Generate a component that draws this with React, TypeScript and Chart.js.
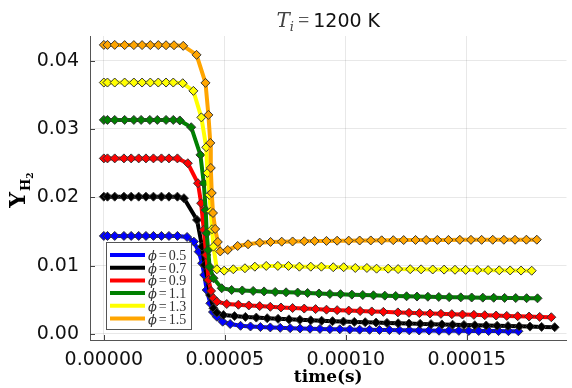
import React, { useEffect, useRef } from "react";
import { Chart, registerables } from "chart.js";

Chart.register(...registerables);

// time in microseconds, mass fraction of H2
const T_PHI05 = [0,1.5,4.5,8.3,11.3,14.4,17.4,20.5,23.8,26.9,30.4,34.4,37.2,39.2,40.6,41.5,42.5,44.0,45.1,46.7,49.1,52.2,56.5,60.6,64.7,68.8,72.9,77.0,81.1,85.2,89.3,93.4,97.5,101.6,105.7,109.8,113.9,118.0,122.1,126.2,130.3,134.4,138.5,142.6,146.7,150.8,154.9,159.0,163.1,167.2,171.3];
const Y_PHI05 = [0.01435,0.01435,0.01435,0.01435,0.01435,0.01435,0.01435,0.01435,0.01435,0.01435,0.01435,0.01420,0.01351,0.01205,0.01035,0.00864,0.00644,0.00449,0.00322,0.00253,0.00180,0.00146,0.00120,0.00110,0.00102,0.00096,0.00090,0.00085,0.00081,0.00077,0.00074,0.00071,0.00068,0.00066,0.00063,0.00061,0.00059,0.00057,0.00055,0.00053,0.00051,0.00050,0.00048,0.00047,0.00046,0.00045,0.00044,0.00043,0.00042,0.00041,0.00040];

const T_PHI07 = [0,1.5,4.5,8.3,11.3,14.4,17.4,20.5,23.8,26.9,30.4,33.1,38.5,40.6,41.7,42.9,43.9,45.3,46.7,49.4,54.0,58.5,63.0,67.5,72.0,76.5,81.0,85.5,90.0,94.5,99.0,103.5,108.0,112.5,117.0,121.6,126.1,130.7,135.2,139.7,144.1,148.8,153.3,158.0,162.5,167.0,171.6,176.1,180.9,186.3];
const Y_PHI07 = [0.0201,0.0201,0.0201,0.0201,0.0201,0.0201,0.0201,0.0201,0.0201,0.0201,0.0201,0.01987,0.01669,0.01278,0.0101,0.00791,0.00571,0.00376,0.00312,0.00278,0.00262,0.00250,0.00240,0.00231,0.00222,0.00214,0.00207,0.00200,0.00194,0.00188,0.00182,0.00177,0.00172,0.00167,0.00162,0.00157,0.00153,0.00148,0.00144,0.00140,0.00136,0.00132,0.00128,0.00124,0.00120,0.00116,0.00112,0.00108,0.00104,0.00100];

const T_PHI09 = [0,1.5,4.5,8.3,11.3,14.4,17.4,20.5,23.8,26.9,30.4,34.7,38.9,40.2,41.3,42.3,43.3,44.3,45.3,46.7,50.8,55.6,59.9,64.4,68.8,73.2,78.0,82.8,87.5,92.0,96.4,101.2,105.9,110.7,115.5,121.5,126.1,130.4,134.8,139.3,143.8,148.2,152.9,157.4,162.1,166.5,171.0,175.7,180.1,184.9];
const Y_PHI09 = [0.0257,0.0257,0.0257,0.0257,0.0257,0.0257,0.0257,0.0257,0.0257,0.0257,0.0257,0.02499,0.02206,0.01914,0.01523,0.01157,0.00791,0.0063,0.00523,0.00473,0.00439,0.00428,0.00418,0.00408,0.00398,0.00388,0.00380,0.00372,0.00364,0.00356,0.00349,0.00342,0.00336,0.00330,0.00324,0.00316,0.00310,0.00305,0.00300,0.00295,0.00290,0.00285,0.00280,0.00275,0.00270,0.00265,0.00260,0.00255,0.00250,0.00245];

const T_PHI11 = [0,1.5,4.5,8.6,12.4,15.4,19.0,22.1,25.7,28.7,31.4,36.1,39.9,41.3,42.1,42.5,43.1,43.7,45.3,48.7,52.8,57.2,61.7,66.2,70.8,75.3,80.1,84.2,88.9,93.4,97.8,102.5,107.0,111.4,116.1,120.6,125.1,129.4,133.9,138.4,142.7,147.5,152.0,156.6,161.1,165.6,170.2,174.7,179.2];
const Y_PHI11 = [0.03133,0.03133,0.03133,0.03133,0.03133,0.03133,0.03133,0.03133,0.03133,0.03133,0.03125,0.03026,0.02621,0.02206,0.01815,0.01474,0.0123,0.00985,0.00816,0.00669,0.00644,0.00637,0.00630,0.00623,0.00615,0.00610,0.00606,0.00600,0.00593,0.00586,0.00583,0.00576,0.00571,0.00566,0.00561,0.00556,0.00552,0.00548,0.00545,0.00542,0.00539,0.00536,0.00534,0.00532,0.00530,0.00528,0.00526,0.00524,0.00522];

const T_PHI13 = [0,1.5,4.5,8.6,12.4,15.8,19.2,22.5,25.7,28.7,32.6,37.0,40.3,42.3,42.8,43.6,44.2,44.7,45.3,46.7,49.7,53.5,58.3,62.4,67.1,71.9,76.3,80.8,85.5,89.9,94.8,99.1,103.9,108.7,112.7,117.5,121.6,126.6,131.1,135.9,140.6,145.1,149.5,154.3,158.8,163.4,167.9,172.4,176.8];
const Y_PHI13 = [0.0368,0.0368,0.0368,0.0368,0.0368,0.0368,0.0368,0.0368,0.0368,0.0368,0.03670,0.03558,0.03170,0.02733,0.02357,0.02035,0.01791,0.01533,0.01278,0.00947,0.00927,0.00947,0.00962,0.00985,0.00996,0.00996,0.00996,0.00985,0.00985,0.00985,0.00977,0.00977,0.00966,0.00966,0.00956,0.00956,0.0095,0.00948,0.00946,0.00944,0.00942,0.0094,0.00938,0.00936,0.00934,0.00932,0.0093,0.00928,0.00926];

const T_PHI15 = [0,1.5,4.5,8.6,12.4,15.8,19.2,22.5,25.7,29.0,32.8,38.3,42.0,43.2,44.0,44.2,44.6,45.1,46.0,47.1,48.1,51.2,55.3,59.6,64.4,68.9,73.5,78.0,82.8,87.1,92.0,96.4,101.2,105.7,110.3,114.8,119.6,123.9,128.8,133.2,137.8,142.4,147.1,151.7,156.1,160.7,165.3,169.9,174.6,178.9];
const Y_PHI15 = [0.04231,0.04231,0.04231,0.04228,0.04228,0.04228,0.04228,0.04228,0.04226,0.04226,0.04217,0.04085,0.03675,0.03206,0.02796,0.02430,0.02064,0.01771,0.01537,0.01347,0.01208,0.01230,0.01288,0.01313,0.01337,0.01347,0.01351,0.01354,0.01357,0.01360,0.01362,0.01365,0.01366,0.01368,0.01369,0.01371,0.01373,0.01375,0.01376,0.01376,0.01377,0.01377,0.01378,0.01378,0.01378,0.01379,0.01379,0.01379,0.01380,0.01380];

const PHI_LABELS = ["0.5", "0.7", "0.9", "1.1", "1.3", "1.5"];
const SERIES_T = [T_PHI05, T_PHI07, T_PHI09, T_PHI11, T_PHI13, T_PHI15];
const SERIES_Y = [Y_PHI05, Y_PHI07, Y_PHI09, Y_PHI11, Y_PHI13, Y_PHI15];
const COLORS = ["#0000ff", "#000000", "#ff0000", "#008000", "#ffff00", "#ffa500"];

const X_TICKS = [0, 5e-5, 1e-4, 1.5e-4];
const Y_TICKS = [0, 0.01, 0.02, 0.03, 0.04];

const SANS = '"DejaVu Sans", sans-serif';
const SERIF = '"DejaVu Serif", serif';

type Part = { text: string; font: string; dy: number; color: string; gap: number };

function drawParts(ctx: CanvasRenderingContext2D, parts: Part[], cx: number, baseline: number, align: "center" | "left") {
  ctx.textBaseline = "alphabetic";
  ctx.textAlign = "left";
  let total = 0;
  const widths = parts.map((p) => {
    ctx.font = p.font;
    const w = ctx.measureText(p.text).width;
    total += w + p.gap;
    return w;
  });
  total -= parts[parts.length - 1].gap;
  let x = align === "center" ? cx - total / 2 : cx;
  parts.forEach((p, i) => {
    ctx.font = p.font;
    ctx.fillStyle = p.color;
    ctx.fillText(p.text, x, baseline + p.dy);
    x += widths[i] + p.gap;
  });
}

const decorPlugin = {
  id: "decor",
  afterDatasetsDraw(chart: any) {
    const ctx: CanvasRenderingContext2D = chart.ctx;
    ctx.save();
    // legend box
    const bx = 106, by = 242, bw = 85, bh = 87;
    ctx.fillStyle = "#ffffff";
    ctx.fillRect(bx, by, bw, bh);
    ctx.strokeStyle = "#555";
    ctx.lineWidth = 1;
    ctx.strokeRect(bx + 0.5, by + 0.5, bw, bh);
    PHI_LABELS.forEach((lab, i) => {
      const yy = 255 + i * 12.7;
      ctx.strokeStyle = COLORS[i];
      ctx.lineWidth = 4;
      ctx.beginPath();
      ctx.moveTo(110, yy);
      ctx.lineTo(145, yy);
      ctx.stroke();
      drawParts(
        ctx,
        [
          { text: "ϕ", font: 'italic 13px "DejaVu Serif"', dy: 0, color: "#333", gap: 2 },
          { text: "=", font: '14px "Liberation Serif"', dy: 0, color: "#333", gap: 2 },
          { text: lab, font: '14px "Liberation Serif"', dy: 0, color: "#333", gap: 0 },
        ],
        148,
        yy + 5,
        "left"
      );
    });
    ctx.restore();
  },
  afterDraw(chart: any) {
    const ctx: CanvasRenderingContext2D = chart.ctx;
    const area = chart.chartArea;
    const xs = chart.scales.x;
    const ys = chart.scales.y;
    ctx.save();
    // inward tick marks
    ctx.strokeStyle = "#444";
    ctx.lineWidth = 1;
    X_TICKS.forEach((v) => {
      const px = Math.round(xs.getPixelForValue(v)) + 0.5;
      ctx.beginPath();
      ctx.moveTo(px, area.bottom);
      ctx.lineTo(px, area.bottom - 5);
      ctx.stroke();
    });
    Y_TICKS.forEach((v) => {
      const py = Math.round(ys.getPixelForValue(v)) + 0.5;
      ctx.beginPath();
      ctx.moveTo(area.left, py);
      ctx.lineTo(area.left + 5, py);
      ctx.stroke();
    });
    const cx = (area.left + area.right) / 2;
    // title
    drawParts(
      ctx,
      [
        { text: "T", font: 'italic 20px "DejaVu Serif"', dy: 0, color: "#444", gap: 0 },
        { text: "i", font: 'italic 13px "DejaVu Serif"', dy: 4, color: "#444", gap: 4 },
        { text: "=", font: '20px "Liberation Serif"', dy: 0, color: "#555", gap: 4 },
        { text: "1200 K", font: "19px " + SANS, dy: 0, color: "#111", gap: 0 },
      ],
      cx,
      27,
      "center"
    );
    // x label
    drawParts(ctx, [{ text: "time(s)", font: "bold 17px " + SERIF, dy: 0, color: "#000", gap: 0 }], cx, 382, "center");
    // y label
    ctx.translate(25, 190);
    ctx.rotate(-Math.PI / 2);
    drawParts(
      ctx,
      [
        { text: "Y", font: "bold 22px " + SERIF, dy: 0, color: "#000", gap: 1 },
        { text: "H", font: "bold 13px " + SERIF, dy: 5, color: "#000", gap: 0 },
        { text: "2", font: "bold 9px " + SERIF, dy: 8, color: "#000", gap: 0 },
      ],
      0,
      0,
      "center"
    );
    ctx.restore();
  },
};

export default function App() {
  const ref = useRef<HTMLCanvasElement | null>(null);
  useEffect(() => {
    if (!ref.current) return;
    const datasets = SERIES_T.map((ts, i) => ({
      label: "ϕ = " + PHI_LABELS[i],
      data: ts.map((t, j) => ({ x: t * 1e-6, y: SERIES_Y[i][j] })),
      borderColor: COLORS[i],
      backgroundColor: COLORS[i],
      borderWidth: 4,
      pointStyle: "rectRot",
      pointRadius: 4.5,
      pointBackgroundColor: COLORS[i],
      pointBorderColor: "#333",
      pointBorderWidth: 1,
      tension: 0,
      order: SERIES_T.length - 1 - i,
    }));
    const chart = new Chart(ref.current, {
      type: "line",
      data: { datasets },
      plugins: [decorPlugin],
      options: {
        animation: false,
        responsive: false,
        layout: { padding: { top: 36, left: 0, right: 0, bottom: 0 } },
        plugins: { legend: { display: false }, tooltip: { enabled: false }, title: { display: false } },
        scales: {
          x: {
            type: "linear",
            min: -5.72e-6,
            max: 1.9118e-4,
            afterBuildTicks: (s: any) => {
              s.ticks = X_TICKS.map((v) => ({ value: v }));
            },
            afterFit: (s: any) => {
              s.height = 48;
            },
            ticks: {
              autoSkip: false,
              maxRotation: 0,
              padding: 9,
              color: "#111",
              font: { family: SANS, size: 19 },
              callback: (v: any) => Number(v).toFixed(5),
            },
            grid: { color: "rgba(0,0,0,0.09)", lineWidth: 1, drawTicks: false },
            border: { display: true, color: "#555", width: 1 },
          },
          y: {
            type: "linear",
            min: -0.00088,
            max: 0.04361,
            afterBuildTicks: (s: any) => {
              s.ticks = Y_TICKS.map((v) => ({ value: v }));
            },
            afterFit: (s: any) => {
              s.width = 90;
            },
            ticks: {
              autoSkip: false,
              padding: 11,
              color: "#111",
              font: { family: SANS, size: 19 },
              callback: (v: any) => Number(v).toFixed(2),
            },
            grid: { color: "rgba(0,0,0,0.09)", lineWidth: 1, drawTicks: false },
            border: { display: true, color: "#555", width: 1 },
          },
        },
      },
    } as any);
    return () => chart.destroy();
  }, []);
  return (
    <div style={{ position: "fixed", left: 0, top: 0, width: 572, height: 388, background: "#fff" }}>
      <canvas ref={ref} width={572} height={388} style={{ display: "block" }} />
    </div>
  );
}
